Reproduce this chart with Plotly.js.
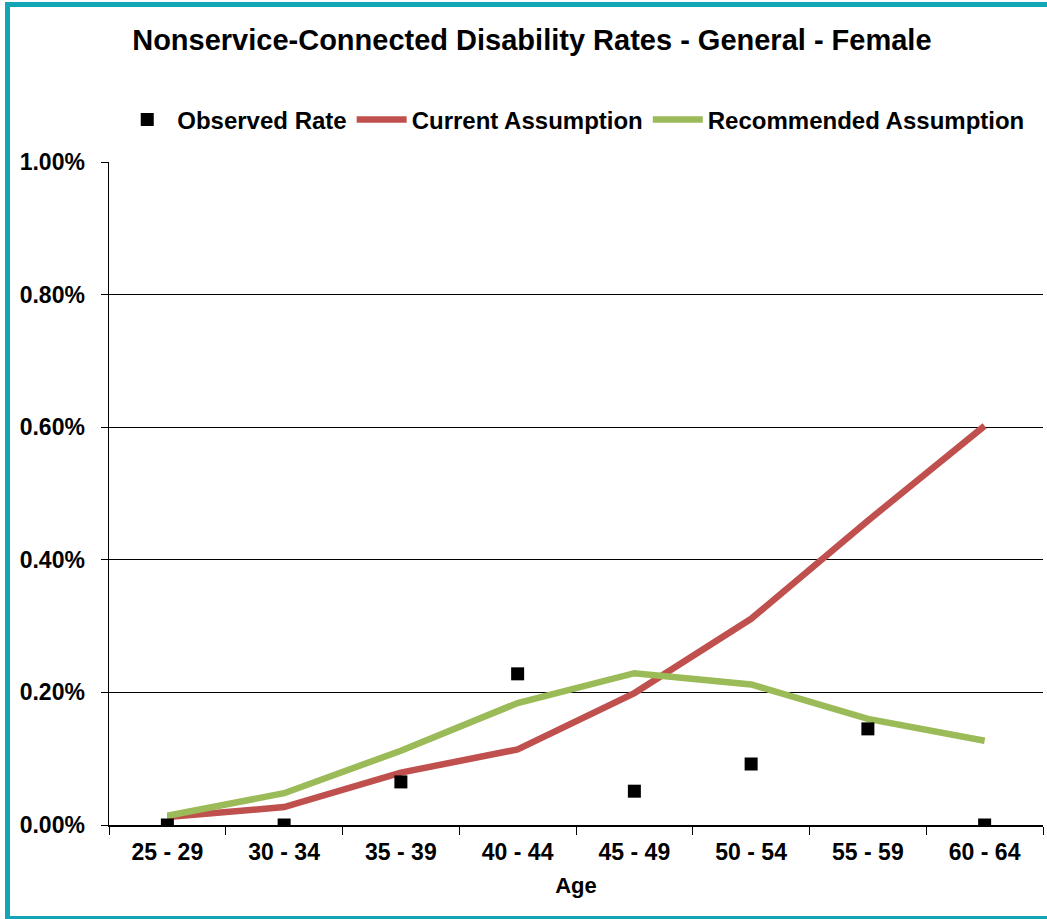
<!DOCTYPE html>
<html>
<head>
<meta charset="utf-8">
<script src="https://cdn.plot.ly/plotly-3.0.1.min.js"></script>
<style>
  html, body { margin: 0; padding: 0; background: #ffffff; }
  #chart { width: 1047px; height: 919px; }
</style>
</head>
<body>
<div id="chart"></div>
<script>
// ---- data (rates in percent) ----
const ageGroups = ["25 - 29", "30 - 34", "35 - 39", "40 - 44", "45 - 49", "50 - 54", "55 - 59", "60 - 64"];
const observedRate = [0.000, 0.000, 0.065, 0.228, 0.051, 0.092, 0.145, 0.000];
const currentAssumption = [0.012, 0.027, 0.079, 0.114, 0.199, 0.311, 0.459, 0.602];
const recommendedAssumption = [0.014, 0.048, 0.112, 0.184, 0.229, 0.212, 0.160, 0.127];
const yTickVals = [0, 0.2, 0.4, 0.6, 0.8, 1.0];
const yTickText = ["0.00%", "0.20%", "0.40%", "0.60%", "0.80%", "1.00%"];

const FONT = "Liberation Sans, Arial, sans-serif";
const W = 1047, H = 919;
const M = { l: 109, r: 4, t: 162, b: 94 };
const pw = W - M.l - M.r, ph = H - M.t - M.b;
const px = x => (x - M.l) / pw;
const py = y => (H - M.b - y) / ph;

const traces = [
  {
    type: "scatter", mode: "lines", name: "Current Assumption",
    x: ageGroups, y: currentAssumption,
    line: { color: "#C0504D", width: 6.5 },
    legendrank: 2
  },
  {
    type: "scatter", mode: "lines", name: "Recommended Assumption",
    x: ageGroups, y: recommendedAssumption,
    line: { color: "#9BBB59", width: 6.5 },
    legendrank: 3
  },
  {
    type: "scatter", mode: "markers", name: "Observed Rate",
    x: ageGroups, y: observedRate,
    marker: { symbol: "square", color: "#000000", size: 13 },
    legendrank: 1
  }
];

const layout = {
  width: W, height: H,
  margin: M,
  paper_bgcolor: "#ffffff",
  plot_bgcolor: "#ffffff",
  font: { family: FONT, color: "#000000", weight: "bold" },
  showlegend: true,
  title: {
    text: "Nonservice-Connected Disability Rates - General - Female",
    font: { family: FONT, size: 29, color: "#000000", weight: "bold" },
    xref: "container", yref: "container",
    x: 0.508, y: 1 - 40 / H, xanchor: "center", yanchor: "middle"
  },
  legend: {
    orientation: "h",
    xref: "container", yref: "container",
    x: 0.548, xanchor: "center",
    y: 1 - 120 / H, yanchor: "middle",
    font: { family: FONT, size: 24, color: "#000000", weight: "bold" },
    itemwidth: 50,
    bgcolor: "rgba(0,0,0,0)"
  },
  xaxis: {
    type: "category",
    range: [-0.5, 7.5],
    tickson: "boundaries",
    ticks: "outside", ticklen: 8, tickwidth: 1, tickcolor: "#000000",
    showline: true, linecolor: "#000000", linewidth: 1.5,
    showgrid: false, zeroline: false,
    tickfont: { family: FONT, size: 23, color: "#000000", weight: "bold" },
    ticklabelstandoff: 6,
    title: {
      text: "Age", standoff: 13,
      font: { family: FONT, size: 22, color: "#000000", weight: "bold" }
    },
    fixedrange: true
  },
  yaxis: {
    range: [0, 1.0],
    tickvals: yTickVals, ticktext: yTickText,
    ticks: "outside", ticklen: 7, tickwidth: 1, tickcolor: "#000000",
    showline: true, linecolor: "#000000", linewidth: 1.5,
    showgrid: true, gridcolor: "#000000", gridwidth: 1,
    zeroline: false,
    tickfont: { family: FONT, size: 23, color: "#000000", weight: "bold" },
    ticklabelstandoff: 11,
    fixedrange: true
  },
  shapes: [
    {
      type: "rect", xref: "paper", yref: "paper", layer: "above",
      x0: px(7.5), x1: px(1060), y0: py(918.5), y1: py(4.5),
      line: { color: "#12A5B5", width: 5 }, fillcolor: "rgba(0,0,0,0)"
    }
  ]
};

Plotly.newPlot("chart", traces, layout, { displayModeBar: false, staticPlot: true });
</script>
</body>
</html>
